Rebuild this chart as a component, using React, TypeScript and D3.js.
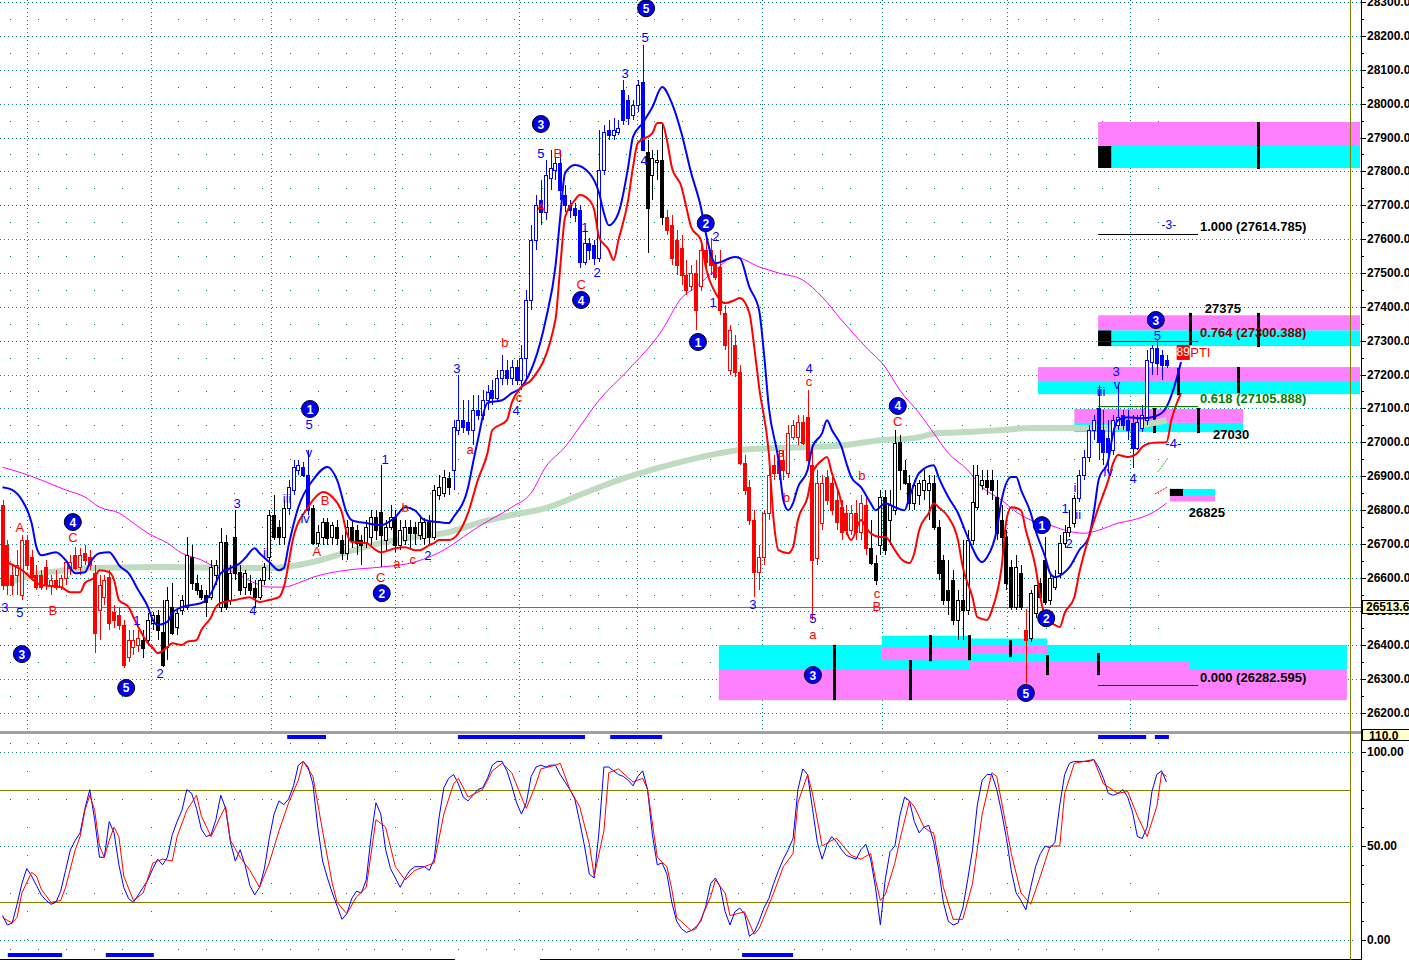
import React from "react";
import * as d3 from "d3";

const FONT = "'Liberation Sans', Arial, Helvetica, sans-serif";

// ---------- axis / reference data ----------
const priceTicks = [26200, 26300, 26400, 26500, 26600, 26700, 26800, 26900, 27000, 27100, 27200, 27300, 27400, 27500, 27600, 27700, 27800, 27900, 28000, 28100, 28200, 28300];
const stochTicks = [0, 50, 100];
const stochBands = [20, 80];
const lastPrice = 26513.6;
const gridBars = [5, 30.6, 55.4, 80.9, 106.5, 130.8, 156.6, 181.3, 207.1, 232.5];

// ---------- OHLC ----------
const opens = [
  26814, 26696, 26607, 26607, 26548, 26711, 26660, 26607, 26607, 26631,
  26578, 26593, 26572, 26599, 26628, 26666, 26631, 26672, 26660, 26613,
  26504, 26542, 26601, 26498, 26489, 26460, 26365, 26395, 26401, 26415,
  26415, 26466, 26489, 26439, 26395, 26513, 26454, 26504, 26513, 26660,
  26584, 26563, 26548, 26542, 26607, 26513, 26705, 26534, 26720, 26616,
  26572, 26584, 26569, 26542, 26593, 26660, 26785, 26749, 26720, 26805,
  26859, 26918, 26927, 26903, 26805, 26702, 26720, 26764, 26720, 26749,
  26711, 26672, 26749, 26740, 26711, 26702, 26720, 26779, 26793, 26711,
  26749, 26779, 26696, 26711, 26749, 26749, 26726, 26717, 26764, 26720,
  26844, 26850, 26894, 26918, 27036, 27065, 27060, 27036, 27095, 27080,
  27124, 27154, 27130, 27189, 27213, 27189, 27222, 27183, 27249, 27420,
  27597, 27715, 27680, 27780, 27804, 27825, 27730, 27700, 27692, 27686,
  27532, 27588, 27582, 27544, 27804, 27922, 27907, 27916, 28040, 28011,
  27966, 27996, 28064, 27857, 27789, 27827, 27833, 27665, 27641, 27597,
  27574, 27494, 27461, 27500, 27461, 27568, 27568, 27529, 27518, 27381,
  27213, 27287, 27207, 26938, 26867, 26770, 26616, 26660, 26791, 26932,
  26947, 26947, 26909, 27015, 27015, 27060, 27074, 26932, 26657, 26761,
  26897, 26879, 26829, 26808, 26791, 26740, 26791, 26734, 26814, 26687,
  26643, 26696, 26838, 26770, 26799, 27000, 26918, 26879, 26820, 26844,
  26859, 26859, 26879, 26749, 26652, 26563, 26593, 26475, 26534, 26504,
  26711, 26808, 26873, 26888, 26888, 26838, 26770, 26720, 26631, 26513,
  26613, 26445, 26421, 26495, 26584, 26652, 26534, 26572, 26613, 26702,
  26734, 26761, 26835, 26903, 26956, 27036, 27101, 27036, 27012, 26977,
  27051, 27080, 27065, 27057, 26983, 27042, 27065, 27237, 27278, 27257, 27243,
];
const highs = [
  26829, 26711, 26637, 26681, 26726, 26726, 26681, 26637, 26622, 26652,
  26607, 26622, 26607, 26652, 26666, 26690, 26687, 26696, 26681, 26637,
  26607, 26607, 26622, 26519, 26510, 26475, 26445, 26445, 26445, 26445,
  26495, 26498, 26504, 26534, 26572, 26584, 26510, 26548, 26720, 26696,
  26607, 26578, 26563, 26652, 26652, 26746, 26726, 26637, 26799, 26637,
  26622, 26607, 26593, 26599, 26643, 26799, 26844, 26770, 26829, 26888,
  26947, 26947, 26941, 26977, 26814, 26755, 26776, 26776, 26764, 26770,
  26726, 26770, 26770, 26755, 26726, 26770, 26799, 26799, 26932, 26770,
  26814, 26799, 26770, 26770, 26770, 26764, 26785, 26776, 26785, 26873,
  26903, 26918, 26912, 27065, 27198, 27124, 27124, 27139, 27139, 27154,
  27169, 27183, 27213, 27257, 27243, 27243, 27243, 27287, 27449, 27641,
  27730, 27774, 27833, 27863, 27839, 27863, 27760, 27715, 27706, 27700,
  27627, 27603, 27597, 27922, 27937, 27952, 27958, 27952, 28070, 28025,
  28011, 28070, 28173, 27892, 27863, 27863, 27943, 27686, 27671, 27627,
  27612, 27538, 27524, 27538, 27582, 27603, 27603, 27553, 27568, 27405,
  27346, 27316, 27228, 26962, 26888, 26799, 26696, 26799, 26918, 26962,
  26977, 26977, 27051, 27065, 27080, 27080, 27154, 26992, 26918, 26903,
  26918, 26903, 26859, 26829, 26814, 26814, 26829, 26844, 26844, 26770,
  26666, 26859, 26859, 26859, 27036, 27021, 26947, 26903, 26888, 26888,
  26918, 26903, 26903, 26770, 26666, 26652, 26622, 26563, 26711, 26740,
  26932, 26932, 26918, 26918, 26918, 26888, 26814, 26740, 26652, 26666,
  26637, 26507, 26563, 26578, 26599, 26720, 26607, 26622, 26726, 26755,
  26799, 26844, 26918, 26977, 27051, 27080, 27169, 27095, 27065, 27080,
  27169, 27095, 27095, 27080, 27080, 27110, 27272, 27287, 27302, 27272, 27257,
];
const lows = [
  26563, 26548, 26548, 26548, 26534, 26622, 26593, 26563, 26563, 26563,
  26548, 26563, 26563, 26578, 26607, 26622, 26607, 26637, 26622, 26377,
  26415, 26519, 26445, 26451, 26445, 26333, 26350, 26371, 26380, 26362,
  26401, 26445, 26415, 26335, 26356, 26430, 26430, 26489, 26504, 26563,
  26548, 26534, 26483, 26534, 26578, 26498, 26504, 26519, 26593, 26548,
  26548, 26548, 26510, 26534, 26578, 26593, 26711, 26696, 26696, 26785,
  26844, 26903, 26897, 26785, 26696, 26690, 26696, 26696, 26696, 26696,
  26652, 26652, 26687, 26666, 26637, 26687, 26696, 26711, 26631, 26681,
  26740, 26675, 26681, 26696, 26687, 26696, 26711, 26696, 26696, 26711,
  26829, 26838, 26844, 26859, 27021, 27027, 27021, 26992, 27065, 27065,
  27095, 27110, 27124, 27169, 27169, 27169, 27169, 27154, 27183, 27390,
  27568, 27641, 27656, 27745, 27774, 27715, 27680, 27662, 27650, 27515,
  27524, 27538, 27524, 27532, 27789, 27892, 27892, 27907, 27937, 27937,
  27952, 27975, 27863, 27559, 27715, 27774, 27641, 27612, 27524, 27494,
  27464, 27435, 27446, 27331, 27446, 27515, 27494, 27479, 27375, 27272,
  27198, 27192, 26932, 26844, 26755, 26542, 26563, 26637, 26770, 26888,
  26888, 26888, 26894, 27006, 26992, 26992, 26941, 26475, 26637, 26740,
  26814, 26785, 26740, 26711, 26726, 26726, 26711, 26711, 26666, 26637,
  26578, 26666, 26666, 26696, 26785, 26859, 26873, 26799, 26799, 26814,
  26829, 26770, 26740, 26593, 26519, 26489, 26460, 26415, 26415, 26489,
  26696, 26799, 26859, 26844, 26829, 26711, 26666, 26563, 26504, 26504,
  26504, 26268, 26410, 26480, 26534, 26519, 26519, 26563, 26599, 26687,
  26720, 26749, 26823, 26888, 26941, 27006, 26947, 26932, 26909, 26962,
  27036, 27036, 27006, 26924, 26977, 27030, 27051, 27198, 27198, 27183, 27219,
];
const closes = [
  26578, 26578, 26578, 26637, 26711, 26637, 26601, 26572, 26572, 26578,
  26593, 26572, 26599, 26646, 26646, 26628, 26666, 26652, 26637, 26436,
  26578, 26593, 26466, 26475, 26460, 26341, 26415, 26415, 26421, 26392,
  26475, 26489, 26445, 26341, 26534, 26436, 26495, 26534, 26666, 26584,
  26563, 26542, 26528, 26631, 26637, 26705, 26513, 26613, 26613, 26563,
  26613, 26563, 26542, 26593, 26631, 26785, 26720, 26720, 26805, 26867,
  26927, 26932, 26903, 26799, 26702, 26734, 26764, 26717, 26755, 26717,
  26672, 26749, 26711, 26702, 26696, 26749, 26779, 26740, 26726, 26749,
  26779, 26696, 26740, 26749, 26731, 26731, 26764, 26764, 26720, 26859,
  26867, 26897, 26867, 27045, 27065, 27045, 27036, 27095, 27080, 27124,
  27148, 27130, 27189, 27213, 27189, 27222, 27183, 27249, 27420, 27597,
  27700, 27680, 27789, 27810, 27825, 27745, 27700, 27686, 27671, 27532,
  27588, 27568, 27544, 27804, 27916, 27907, 27922, 27928, 27952, 27958,
  27996, 28055, 27863, 27692, 27839, 27833, 27665, 27627, 27544, 27524,
  27494, 27449, 27500, 27390, 27568, 27532, 27524, 27488, 27390, 27287,
  27331, 27207, 26938, 26859, 26770, 26616, 26660, 26791, 26903, 26909,
  26909, 26918, 27027, 27051, 27060, 26998, 26947, 26652, 26879, 26879,
  26829, 26799, 26764, 26734, 26740, 26791, 26734, 26820, 26687, 26643,
  26593, 26838, 26681, 26814, 26998, 26918, 26879, 26820, 26873, 26879,
  26888, 26879, 26749, 26613, 26534, 26534, 26475, 26534, 26504, 26711,
  26823, 26903, 26888, 26867, 26859, 26731, 26720, 26584, 26513, 26631,
  26513, 26415, 26554, 26578, 26542, 26528, 26599, 26601, 26702, 26734,
  26749, 26835, 26903, 26956, 27036, 27065, 27000, 26971, 26971, 27065,
  27074, 27051, 27036, 26983, 27060, 27080, 27243, 27278, 27234, 27228, 27228,
];
// wave colouring of candles: [fromBar, toBar, kind]
const waveSegments: [number, number, string][] = [
  [0, 28, "red"], [29, 58, "neutral"], [59, 63, "blue"], [64, 92, "neutral"],
  [93, 132, "blue"], [133, 136, "neutral"], [137, 178, "red"], [179, 210, "neutral"],
  [211, 211, "red"], [212, 221, "neutral"], [222, 240, "blue"],
];

// ---------- indicator lines [bar, price] ----------
const blueBand: [number, number][] = [
  [0, 26867], [2, 26859], [4, 26829], [6, 26761], [7, 26690], [8, 26666], [10, 26672], [11, 26675], [13, 26652], [15, 26613],
  [17, 26616], [18, 26643], [20, 26672], [22, 26675], [23, 26660], [24, 26637], [26, 26613], [28, 26563], [30, 26513], [31, 26475],
  [32, 26460], [34, 26469], [35, 26495], [37, 26513], [39, 26519], [41, 26525], [43, 26554], [45, 26613], [47, 26628], [49, 26643],
  [50, 26657], [52, 26687], [53, 26672], [55, 26646], [57, 26622], [58, 26628], [59, 26696], [61, 26808], [64, 26888], [67, 26927],
  [69, 26888], [71, 26791], [72, 26770], [75, 26761], [78, 26755], [81, 26779], [83, 26808], [85, 26799], [87, 26770], [90, 26764],
  [92, 26761], [93, 26779], [96, 26867], [97, 26938], [98, 27006], [100, 27116], [103, 27124], [105, 27145], [107, 27163], [112, 27361],
  [114, 27518], [115, 27665], [116, 27795], [118, 27819], [121, 27795], [123, 27736], [124, 27677], [125, 27641], [127, 27677], [129, 27813],
  [130, 27902], [132, 27943], [134, 27990], [136, 28049], [138, 28002], [140, 27913], [142, 27795], [144, 27694], [145, 27618], [147, 27529],
  [151, 27547], [152, 27544], [154, 27458], [156, 27390], [157, 27263], [158, 27104], [160, 26947], [161, 26829], [162, 26799], [163, 26820],
  [164, 26867], [166, 26918], [167, 26986], [169, 27027], [170, 27065], [171, 27036], [173, 26986], [174, 26938], [175, 26897], [177, 26867],
  [179, 26820], [180, 26799], [182, 26820], [184, 26808], [186, 26799], [187, 26838], [189, 26909], [192, 26932], [193, 26897], [195, 26838],
  [197, 26791], [199, 26720], [202, 26646], [203, 26660], [205, 26740], [206, 26829], [208, 26897], [209, 26897], [210, 26859], [212, 26791],
  [213, 26740], [215, 26660], [216, 26613], [217, 26601], [219, 26616], [220, 26631], [222, 26681], [224, 26720], [225, 26791], [226, 26888],
  [228, 26947], [229, 27027], [230, 27065], [232, 27074], [235, 27071], [237, 27074], [239, 27086], [240, 27104], [242, 27183], [243, 27237],
];
const redBand: [number, number][] = [
  [0, 26652], [4, 26622], [8, 26578], [12, 26572], [14, 26557], [16, 26557], [17, 26584], [19, 26601], [20, 26622], [22, 26616],
  [23, 26593], [24, 26534], [26, 26513], [27, 26483], [28, 26454], [30, 26406], [31, 26392], [32, 26377], [34, 26395], [35, 26406],
  [37, 26401], [38, 26410], [40, 26415], [41, 26445], [43, 26483], [44, 26513], [45, 26525], [48, 26534], [51, 26542], [53, 26528],
  [55, 26534], [57, 26542], [58, 26572], [60, 26720], [63, 26808], [65, 26844], [66, 26853], [68, 26838], [70, 26791], [71, 26731],
  [72, 26705], [75, 26702], [77, 26681], [78, 26675], [81, 26687], [83, 26690], [85, 26681], [86, 26681], [88, 26696], [89, 26702],
  [90, 26711], [92, 26711], [94, 26731], [96, 26791], [98, 26888], [100, 26968], [101, 27036], [104, 27065], [105, 27116], [107, 27163],
  [109, 27183], [114, 27361], [115, 27518], [116, 27665], [118, 27715], [119, 27730], [121, 27715], [122, 27686], [123, 27606], [125, 27568],
  [126, 27538], [127, 27597], [129, 27715], [130, 27813], [131, 27884], [134, 27913], [135, 27943], [136, 27943], [137, 27892], [138, 27813],
  [140, 27754], [141, 27694], [142, 27635], [144, 27597], [145, 27518], [147, 27441], [149, 27411], [151, 27420], [152, 27426], [154, 27381],
  [155, 27281], [156, 27163], [158, 26968], [159, 26770], [160, 26681], [162, 26672], [163, 26690], [164, 26770], [166, 26838], [167, 26909],
  [169, 26947], [170, 26956], [171, 26909], [173, 26820], [174, 26740], [175, 26711], [177, 26770], [178, 26749], [179, 26731], [181, 26720],
  [182, 26720], [184, 26681], [185, 26660], [187, 26643], [188, 26672], [189, 26740], [191, 26791], [192, 26820], [193, 26808], [195, 26779],
  [197, 26711], [198, 26631], [200, 26542], [201, 26483], [203, 26475], [204, 26504], [206, 26631], [207, 26770], [208, 26808], [210, 26799],
  [211, 26740], [213, 26631], [214, 26542], [215, 26483], [217, 26460], [218, 26454], [219, 26495], [221, 26542], [222, 26613], [224, 26720],
  [226, 26808], [228, 26888], [229, 26938], [230, 26962], [232, 26956], [234, 26968], [235, 26986], [237, 26998], [240, 27000], [241, 27065], [243, 27145],
];
const magentaMA: [number, number][] = [
  [0, 26926], [4, 26909], [8, 26888], [13, 26859], [17, 26838], [20, 26808], [24, 26791], [27, 26761], [30, 26731], [34, 26702],
  [37, 26672], [41, 26652], [43, 26637], [48, 26613], [52, 26584], [55, 26572], [58, 26572], [61, 26584], [64, 26601], [71, 26622],
  [78, 26631], [85, 26646], [92, 26690], [95, 26720], [98, 26749], [105, 26808], [109, 26850], [112, 26927], [116, 26986], [119, 27045],
  [123, 27124], [129, 27213], [136, 27331], [140, 27426], [143, 27458], [147, 27509], [151, 27547], [156, 27518], [160, 27500], [165, 27479],
  [169, 27429], [173, 27361], [178, 27281], [182, 27222], [185, 27154], [189, 27086], [192, 27027], [195, 26968], [199, 26918], [202, 26867],
  [206, 26829], [209, 26794], [212, 26770], [216, 26755], [219, 26740], [223, 26731], [226, 26740], [230, 26761], [233, 26770], [237, 26791], [240, 26820],
];
const greenMA: [number, number][] = [
  [0, 26578], [6, 26607], [13, 26622], [20, 26628], [34, 26631], [48, 26628], [55, 26628], [61, 26637], [64, 26646], [71, 26675],
  [78, 26702], [85, 26720], [92, 26734], [98, 26761], [105, 26785], [112, 26805], [119, 26844], [127, 26888], [136, 26927], [144, 26956],
  [152, 26977], [160, 26983], [167, 26986], [174, 26992], [181, 27006], [188, 27012], [193, 27027], [199, 27030], [206, 27036], [212, 27042],
  [221, 27042], [226, 27042], [235, 27051], [240, 27065],
];

// ---------- stochastic ----------
const stochK = [
  13, 8, 9, 19, 30, 38, 34, 29, 24, 21, 19, 20, 26, 37, 48, 53, 57, 70, 80, 64,
  44, 44, 63, 57, 40, 28, 22, 20, 24, 28, 32, 38, 43, 40, 44, 56, 63, 69, 80, 78,
  70, 59, 55, 56, 64, 77, 70, 52, 42, 48, 40, 29, 24, 28, 38, 54, 67, 74, 72, 75,
  82, 93, 95, 92, 83, 60, 42, 33, 25, 18, 11, 14, 22, 26, 25, 32, 55, 73, 67, 48,
  38, 33, 28, 33, 37, 39, 39, 39, 37, 43, 65, 81, 86, 88, 83, 76, 74, 77, 80, 81,
  86, 93, 95, 95, 90, 82, 73, 67, 73, 87, 92, 93, 92, 93, 93, 88, 84, 80, 75, 63,
  50, 35, 33, 58, 92, 92, 90, 88, 87, 85, 82, 87, 90, 80, 56, 40, 41, 35, 20, 10,
  6, 4, 5, 7, 10, 18, 30, 33, 28, 15, 8, 15, 17, 14, 2, 4, 10, 17, 22, 30,
  37, 43, 48, 54, 80, 91, 88, 70, 52, 43, 51, 55, 52, 48, 45, 44, 43, 48, 51, 43,
  28, 8, 32, 47, 50, 66, 76, 74, 63, 57, 60, 61, 52, 38, 20, 10, 8, 9, 17, 32,
  48, 72, 85, 88, 88, 80, 68, 54, 37, 25, 21, 16, 28, 39, 46, 50, 49, 52, 72, 88,
  94, 95, 95, 95, 95, 96, 92, 86, 78, 77, 78, 80, 76, 68, 55, 54, 60, 79, 88, 90, 84,
];
const stochD: [number, number][] = [
  [0, 12], [2, 9], [3, 12], [4, 25], [6, 36], [7, 34], [8, 27], [10, 20], [12, 21], [13, 28], [15, 48], [16, 55], [17, 69], [18, 77],
  [19, 69], [20, 50], [21, 44], [22, 53], [23, 60], [24, 55], [25, 34], [27, 21], [29, 25], [31, 41], [33, 43], [35, 42], [36, 55],
  [38, 69], [40, 77], [41, 66], [43, 55], [45, 66], [46, 71], [47, 53], [49, 44], [51, 37], [53, 28], [55, 41], [57, 58], [59, 73],
  [61, 85], [62, 95], [64, 87], [66, 58], [68, 30], [69, 20], [71, 14], [73, 23], [75, 28], [77, 64], [79, 60], [81, 39], [83, 32],
  [85, 37], [87, 39], [89, 41], [91, 67], [93, 83], [94, 86], [96, 76], [99, 80], [101, 90], [103, 94], [105, 89], [107, 76], [108, 70],
  [110, 83], [111, 91], [114, 93], [115, 94], [117, 80], [119, 71], [121, 51], [122, 34], [124, 58], [125, 89], [127, 91], [130, 84],
  [132, 86], [133, 80], [135, 44], [137, 39], [138, 27], [139, 12], [142, 5], [143, 6], [144, 11], [146, 23], [147, 32], [149, 25],
  [150, 13], [153, 15], [155, 3], [156, 6], [159, 25], [161, 39], [163, 46], [164, 73], [166, 88], [167, 78], [169, 50], [171, 53],
  [172, 54], [175, 45], [177, 43], [179, 46], [180, 32], [181, 21], [182, 24], [184, 41], [185, 53], [187, 74], [188, 71], [190, 60],
  [191, 58], [192, 57], [194, 28], [196, 11], [198, 11], [200, 30], [202, 67], [204, 89], [205, 87], [208, 46], [210, 25], [212, 19],
  [214, 34], [216, 50], [218, 50], [219, 78], [221, 94], [223, 95], [225, 96], [227, 83], [230, 78], [232, 79], [234, 66], [236, 55],
  [238, 71], [239, 89], [240, 87],
];
const stochTopMarks: [number, number][] = [[58.7, 66.7], [93.9, 120.1], [125.3, 136], [225.9, 235.8], [237.6, 240.5]];
const stochBottomMarks: [number, number][] = [[1.1, 12.3], [21.3, 31.2], [152.5, 163]];

// ---------- Elliott wave annotations [bar, price, label] ----------
const circleLabels: [number, number, string][] = [
  [4.0, 26374, "3"], [25.5, 26274, "5"], [14.5, 26764, "4"], [63.4, 27098, "1"], [78.2, 26554, "2"],
  [111, 27940, "3"], [119.3, 27420, "4"], [132.7, 28282, "5"], [145, 27647, "2"], [143.4, 27296, "1"],
  [184.6, 27107, "4"], [167.1, 26312, "3"], [211, 26259, "5"], [214.3, 26755, "1"], [215.2, 26480, "2"], [237.8, 27361, "3"],
];
const blueLabels: [number, number, string][] = [
  [0.5, 26513, "3"], [3.6, 26498, "5"], [27.7, 26472, "1"], [32.5, 26318, "2"], [48.4, 26820, "3"], [51.6, 26504, "4"],
  [54.3, 26675, "ii"], [58.7, 26835, "iii"], [63.2, 27051, "5"], [63.2, 26971, "v"], [62.4, 26776, "iv"], [78.9, 26950, "1"],
  [87.7, 26664, "2"], [93.7, 27219, "3"], [105.9, 27095, "4"], [111, 27854, "5"], [120.1, 27635, "1"], [122.6, 27500, "2"],
  [128.4, 28090, "3"], [132.5, 28197, "5"], [132.3, 27833, "4"], [147.1, 27609, "2"], [146.5, 27414, "1"], [166.3, 27219, "4"],
  [154.7, 26522, "3"], [167.1, 26478, "5"], [219.1, 26805, "1"], [219.9, 26702, "2"], [221.1, 26867, "i"], [221.8, 26785, "ii"],
  [226.5, 27151, "iii"], [229.8, 27169, "v"], [228, 26912, "iv"], [233.1, 26894, "4"], [229.6, 27210, "3"], [238.1, 27316, "5"],
  [241.4, 26997, "-4-"],
];
const redLabels: [number, number, string][] = [
  [3.6, 26749, "A"], [10.4, 26504, "B"], [14.5, 26717, "C"], [64.8, 26678, "A"], [66.5, 26829, "B"], [78, 26601, "C"],
  [81.3, 26643, "a"], [84.6, 26652, "c"], [83, 26808, "b"], [96.4, 26977, "a"], [103.6, 27296, "b"], [106.5, 27133, "c"],
  [111, 27692, "A"], [114.5, 27854, "B"], [119.3, 27467, "C"], [160.5, 26971, "a"], [161.6, 26838, "b"], [166.3, 27178, "c"],
  [167.1, 26433, "a"], [177.2, 26903, "b"], [180.3, 26554, "c"], [180.3, 26516, "B"], [184.6, 27060, "C"],
];

// ---------- target zones [fromBar, toBar, priceTop, priceBottom, colour] ----------
const zoneBoxes: [number, number, number, number, string][] = [
  [147.7, 277.2, 26401, 26327, "#00ffff"],
  [147.7, 277.2, 26327, 26238, "#ff80ff"],
  [181.3, 199.5, 26428, 26395, "#00ffff"],
  [181.3, 199.5, 26395, 26356, "#ff80ff"],
  [199.5, 215.4, 26420, 26401, "#00ffff"],
  [199.5, 215.4, 26401, 26374, "#ff80ff"],
  [199.5, 244.8, 26353, 26327, "#ff80ff"],
  [225.9, 279.9, 27946, 27875, "#ff80ff"],
  [225.9, 279.9, 27875, 27810, "#00ffff"],
  [225.9, 279.9, 27375, 27330, "#ff80ff"],
  [225.9, 279.9, 27330, 27284, "#00ffff"],
  [213.5, 279.9, 27222, 27181, "#ff80ff"],
  [213.5, 279.9, 27181, 27142, "#00ffff"],
  [221, 255.8, 27098, 27057, "#ff80ff"],
  [221, 255.8, 27057, 27030, "#00ffff"],
  [240.7, 250, 26862, 26841, "#00ffff"],
  [240.7, 250, 26841, 26825, "#ff80ff"],
];
const zoneSquares: [number, number, number, number][] = [
  [225.9, 228.6, 27875, 27810], [225.9, 228.6, 27330, 27284], [240.7, 243.4, 26862, 26841],
];
const zoneBars: [number, number, number][] = [
  [171.5, 26401, 26238], [187.1, 26356, 26238], [191.2, 26430, 26353], [199.3, 26430, 26356], [207.7, 26415, 26365],
  [215.4, 26371, 26312], [225.9, 26377, 26312], [258.9, 27946, 27807], [244.8, 27382, 27287], [258.9, 27382, 27281],
  [242.4, 27219, 27139], [254.7, 27222, 27145], [237.4, 27101, 27027], [246.5, 27101, 27027],
];
const fibLevels: [string, number, string][] = [
  ["1.000", 27614.785, "#000000"], ["0.764", 27300.388, "#800000"], ["0.618", 27105.888, "#008000"], ["0.000", 26282.595, "#000000"],
];
const zoneTexts: [number, number, string][] = [[247.9, 27396, "27375"], [249.6, 27024, "27030"], [244.6, 26791, "26825"]];

export default function App() {
  const x = d3.scaleLinear().domain([0, 240]).range([2.5, 1166.5]);
  const y = d3.scaleLinear().domain([26200, 28200]).range([713, 36]);
  const ys = d3.scaleLinear().domain([0, 100]).range([940, 752]);
  const AXX = 1361;
  const OLIVE = "#808000";
  const TEAL = "#008080";

  const colorOf = (i: number) => {
    for (const [a, b, c] of waveSegments) if (i >= a && i <= b) return c;
    return "neutral";
  };
  const palette: Record<string, string> = { red: "#ff0000", blue: "#0000ff", neutral: "#000000" };

  const bandLine = d3.line<[number, number]>().x((d) => x(d[0])).y((d) => y(d[1])).curve(d3.curveMonotoneX);
  const kLine = d3.line<number>().x((_, i) => x(i)).y((v) => ys(v));
  const dLine = d3.line<[number, number]>().x((d) => x(d[0])).y((d) => ys(d[1]));

  const fmt = (p: number) => p.toFixed(2);

  // minor dot positions (decoration): every 28px, skipping the major grid columns
  const majorPx = gridBars.map((b) => Math.round(x(b)));
  const minorXs = d3.range(10, 1166, 28).filter((mx) => majorPx.every((m) => Math.abs(m - mx) > 4));
  const halfLevels = priceTicks.slice(0, -1).map((p) => p + 50);
  const stochDotRows = [105, 75, 25, -5];

  return (
    <svg width={1409} height={960} style={{ position: "absolute", left: 0, top: 0, display: "block" }} fontFamily={FONT}>
      <defs>
        <clipPath id="mainClip"><rect x={0} y={0} width={AXX} height={731} /></clipPath>
        <clipPath id="lowClip"><rect x={0} y={735} width={AXX} height={224} /></clipPath>
      </defs>
      <rect x={0} y={0} width={1409} height={960} fill="#ffffff" />

      {/* ===== MAIN PANEL ===== */}
      <g clipPath="url(#mainClip)">
        {priceTicks.map((p) => (
          <line key={"hg" + p} x1={0} x2={AXX} y1={Math.round(y(p)) + 0.5} y2={Math.round(y(p)) + 0.5} stroke={TEAL} strokeDasharray="1,3" />
        ))}
        {gridBars.map((b) => (
          <line key={"vg" + b} x1={Math.round(x(b)) + 0.5} x2={Math.round(x(b)) + 0.5} y1={0} y2={731} stroke={TEAL} strokeDasharray="1,3" />
        ))}
        {halfLevels.map((p) =>
          minorXs.map((mx) => <rect key={"md" + p + "_" + mx} x={mx} y={Math.round(y(p))} width={1} height={1} fill={TEAL} />)
        )}

        {/* zones */}
        {zoneBoxes.map(([a, b, t, bt, c], k) => (
          <rect key={"zb" + k} x={x(a)} y={y(t)} width={x(b) - x(a)} height={y(bt) - y(t)} fill={c} />
        ))}
        {zoneSquares.map(([a, b, t, bt], k) => (
          <rect key={"zs" + k} x={x(a)} y={y(t)} width={x(b) - x(a)} height={y(bt) - y(t)} fill="#000" />
        ))}
        {zoneBars.map(([b, t, bt], k) => (
          <rect key={"zv" + k} x={Math.round(x(b)) - 1} y={y(t)} width={3} height={y(bt) - y(t)} fill="#000" />
        ))}

        {/* moving averages behind candles */}
        <path d={bandLine(greenMA) || ""} fill="none" stroke="#c0dcc0" strokeWidth={6} />
        <path d={bandLine(magentaMA) || ""} fill="none" stroke="#ff00ff" strokeWidth={1} />

        {/* last price line */}
        <line x1={0} x2={AXX} y1={Math.round(y(lastPrice)) + 0.5} y2={Math.round(y(lastPrice)) + 0.5} stroke={OLIVE} strokeWidth={1} />

        {/* candles */}
        <g shapeRendering="crispEdges">
          {closes.map((c, i) => {
            const o = opens[i];
            const h = Math.max(highs[i], o, c);
            const l = Math.min(lows[i], o, c);
            const col = palette[colorOf(i)];
            const cx = Math.round(x(i));
            const yTop = Math.round(y(Math.max(o, c)));
            const yBot = Math.round(y(Math.min(o, c)));
            const hh = Math.max(1, yBot - yTop);
            const up = c >= o;
            return (
              <g key={"c" + i}>
                <line x1={cx + 0.5} x2={cx + 0.5} y1={Math.round(y(h))} y2={Math.round(y(l))} stroke={col} strokeWidth={1} />
                {up ? (
                  <rect x={cx - 1.5} y={yTop + 0.5} width={3} height={hh} fill="#ffffff" stroke={col} strokeWidth={1} />
                ) : (
                  <rect x={cx - 2} y={yTop} width={4} height={hh + 1} fill={col} />
                )}
              </g>
            );
          })}
        </g>

        {/* bands */}
        <path d={bandLine(blueBand) || ""} fill="none" stroke="#0000ff" strokeWidth={2} />
        <path d={bandLine(redBand) || ""} fill="none" stroke="#ff0000" strokeWidth={2} />

        {/* fib projection lines */}
        {fibLevels.map(([r, p, c]) => (
          <g key={"fib" + r}>
            <line x1={x(225.9)} x2={x(246.5)} y1={Math.round(y(p)) + 0.5} y2={Math.round(y(p)) + 0.5} stroke={c} strokeWidth={1} />
            <text x={x(246.9)} y={y(p) - 8} fill={c} fontSize={13} fontWeight="bold" dominantBaseline="central">
              {`${r} (${p.toFixed(3)})`}
            </text>
          </g>
        ))}
        <text x={x(240.5)} y={y(27641)} fill="#0000ff" fontSize={12} textAnchor="middle" dominantBaseline="central">-3-</text>
        {zoneTexts.map(([b, p, t]) => (
          <text key={"zt" + t} x={x(b)} y={y(p)} fontSize={13} fontWeight="bold" fill="#000" dominantBaseline="central">{t}</text>
        ))}
        {/* 89 PTI marker */}
        <rect x={x(242.1)} y={y(27287)} width={x(244.8) - x(242.1)} height={y(27243) - y(27287)} fill="#ff0000" />
        <text x={(x(242.1) + x(244.8)) / 2} y={y(27266)} fontSize={12} fill="#ffffff" textAnchor="middle" dominantBaseline="central">89</text>
        <text x={x(244.9)} y={y(27266)} fontSize={13} fill="#ff0000" dominantBaseline="central">PTI</text>
        {/* small channel marks */}
        <line x1={x(238.2)} y1={y(26912)} x2={x(240.3)} y2={y(26953)} stroke="#00cc00" strokeWidth={1} strokeDasharray="2,1" />
        <line x1={x(237.6)} y1={y(26847)} x2={x(240.3)} y2={y(26868)} stroke="#ff0000" strokeWidth={1} strokeDasharray="2,1" />

        {/* wave labels */}
        {blueLabels.map(([b, p, t], k) => (
          <text key={"bl" + k} x={x(b)} y={y(p)} fill="#0000ff" fontSize={13} textAnchor="middle" dominantBaseline="central">{t}</text>
        ))}
        {redLabels.map(([b, p, t], k) => (
          <text key={"rl" + k} x={x(b)} y={y(p)} fill="#ff0000" fontSize={13} textAnchor="middle" dominantBaseline="central">{t}</text>
        ))}
        {circleLabels.map(([b, p, t], k) => (
          <g key={"cl" + k}>
            <circle cx={x(b)} cy={y(p)} r={8.5} fill="#0000ee" stroke="#000" strokeWidth={1} />
            <text x={x(b)} y={y(p) + 0.5} fill="#ffffff" fontSize={12} fontWeight="bold" textAnchor="middle" dominantBaseline="central">{t}</text>
          </g>
        ))}
      </g>

      {/* ===== LOWER PANEL ===== */}
      <g clipPath="url(#lowClip)">
        {stochTicks.map((v) => (
          <line key={"sg" + v} x1={0} x2={1356} y1={Math.round(ys(v)) + 0.5} y2={Math.round(ys(v)) + 0.5} stroke={TEAL} strokeDasharray="1,3" />
        ))}
        {gridBars.map((b) => (
          <line key={"svg" + b} x1={Math.round(x(b)) + 0.5} x2={Math.round(x(b)) + 0.5} y1={743} y2={958} stroke={TEAL} strokeDasharray="1,27" />
        ))}
        {stochDotRows.map((v) =>
          minorXs.map((mx) => <rect key={"sd" + v + "_" + mx} x={mx} y={Math.round(ys(v))} width={1} height={1} fill={TEAL} />)
        )}
        {stochBands.map((v) => (
          <line key={"sb" + v} x1={0} x2={1350} y1={Math.round(ys(v)) + 0.5} y2={Math.round(ys(v)) + 0.5} stroke={OLIVE} strokeWidth={1} />
        ))}
        <path d={kLine(stochK) || ""} fill="none" stroke="#0000ff" strokeWidth={1} />
        <path d={dLine(stochD) || ""} fill="none" stroke="#ff0000" strokeWidth={1} />
        {stochTopMarks.map(([a, b], k) => (
          <rect key={"tm" + k} x={x(a)} y={735} width={x(b) - x(a)} height={4} fill="#0000ff" />
        ))}
        {stochBottomMarks.map(([a, b], k) => (
          <rect key={"bm" + k} x={x(a)} y={953} width={x(b) - x(a)} height={4} fill="#0000ff" />
        ))}
      </g>

      {/* panel separator */}
      <rect x={0} y={731} width={1409} height={3} fill="#a0a0a0" />
      <line x1={0} x2={455} y1={959.5} y2={959.5} stroke="#000" />
      <line x1={540} x2={AXX} y1={959.5} y2={959.5} stroke="#000" />

      {/* olive cursor line & axis line */}
      <line x1={1350.5} x2={1350.5} y1={0} y2={960} stroke={OLIVE} strokeWidth={1} />
      <line x1={AXX + 0.5} x2={AXX + 0.5} y1={0} y2={960} stroke="#000" strokeWidth={1} />

      {/* price axis */}
      {priceTicks.map((p) => (
        <g key={"pt" + p}>
          <line x1={AXX} x2={AXX + 5} y1={Math.round(y(p)) + 0.5} y2={Math.round(y(p)) + 0.5} stroke="#000" />
          <text x={AXX + 6} y={y(p)} fontSize={12} fontWeight="bold" dominantBaseline="central" fill="#000">{fmt(p)}</text>
        </g>
      ))}
      {halfLevels.map((p) => (
        <line key={"pm" + p} x1={AXX} x2={AXX + 3} y1={Math.round(y(p)) + 0.5} y2={Math.round(y(p)) + 0.5} stroke="#000" />
      ))}
      <rect x={AXX + 1.5} y={Math.round(y(lastPrice)) - 6.5} width={50} height={13} fill="#ffffcc" stroke="#000" strokeWidth={1} />
      <text x={AXX + 5} y={y(lastPrice) + 0.5} fontSize={12} fontWeight="bold" dominantBaseline="central" fill="#000">{lastPrice.toFixed(1)}</text>

      {/* stochastic axis */}
      <rect x={AXX + 1.5} y={729.5} width={50} height={11} fill="#ffffcc" stroke="#000" strokeWidth={1} />
      <text x={AXX + 8} y={736} fontSize={12} fontWeight="bold" dominantBaseline="central" fill="#000">110.0</text>
      {stochTicks.map((v) => (
        <g key={"st" + v}>
          <line x1={AXX} x2={AXX + 5} y1={Math.round(ys(v)) + 0.5} y2={Math.round(ys(v)) + 0.5} stroke="#000" />
          <text x={AXX + 6} y={ys(v)} fontSize={12} fontWeight="bold" dominantBaseline="central" fill="#000">{fmt(v)}</text>
        </g>
      ))}
      {[10, 20, 30, 40, 60, 70, 80, 90].map((v) => (
        <line key={"sm" + v} x1={AXX} x2={AXX + 3} y1={Math.round(ys(v)) + 0.5} y2={Math.round(ys(v)) + 0.5} stroke="#000" />
      ))}
    </svg>
  );
}
